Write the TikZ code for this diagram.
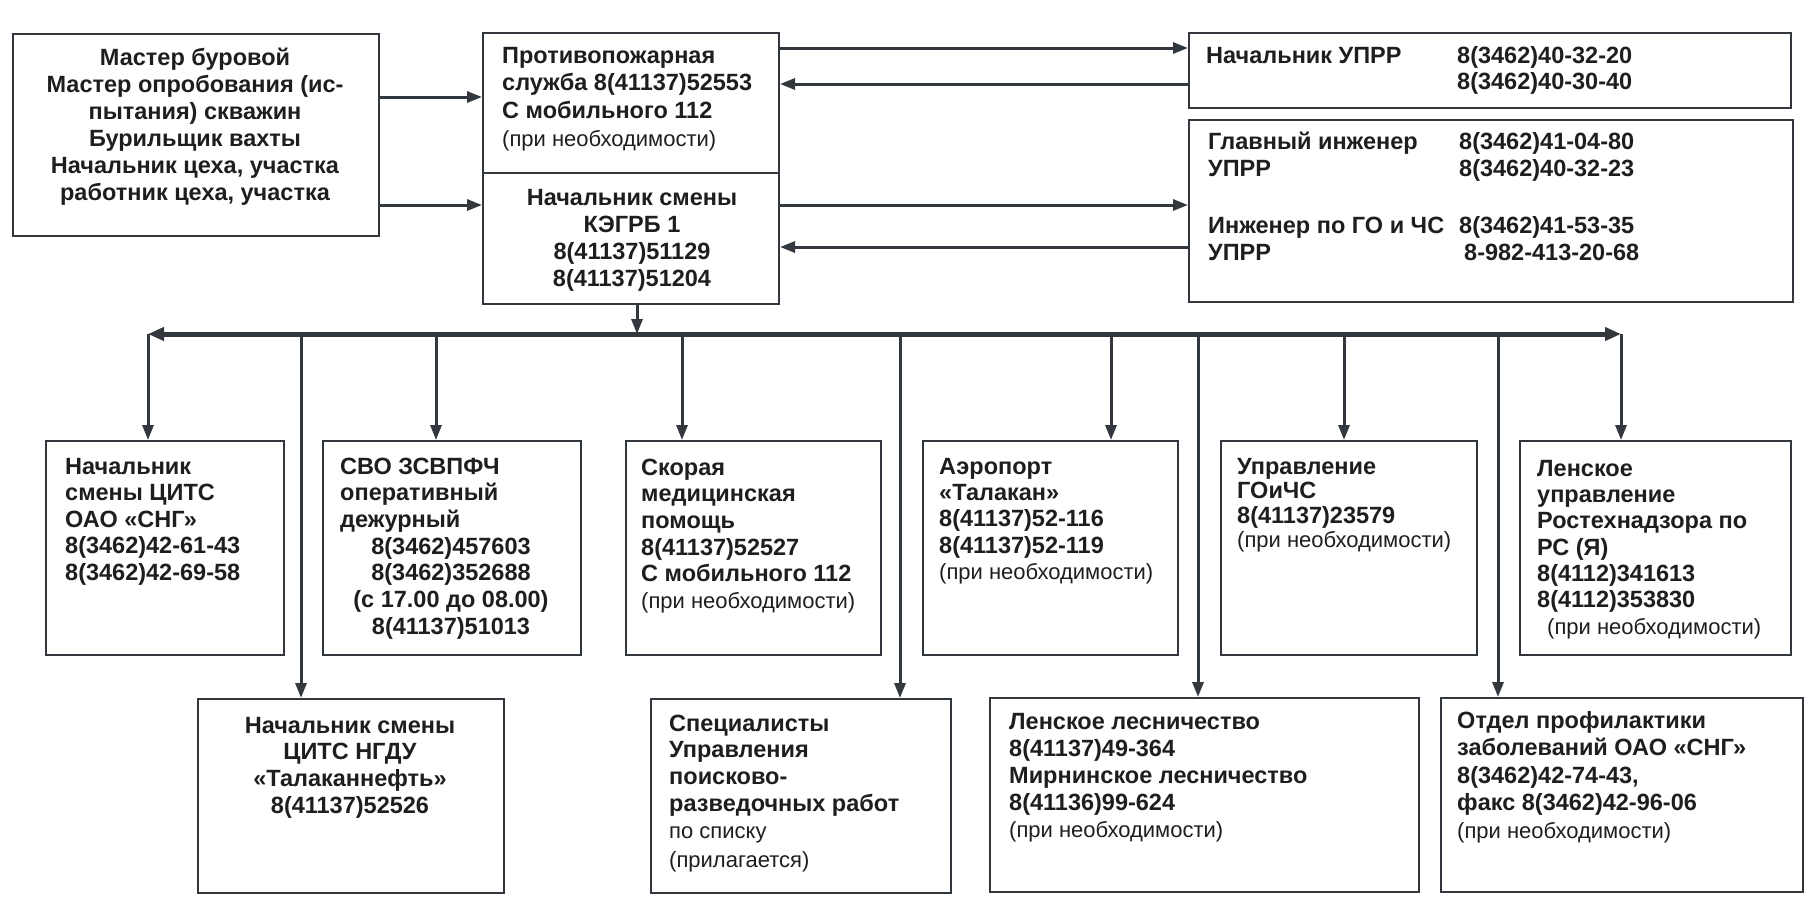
\documentclass[tikz,border=0pt]{standalone}
\usepackage{fontspec}
\setmainfont{Liberation Sans}
\usetikzlibrary{arrows.meta}
\definecolor{ln}{HTML}{33383E}
\definecolor{tx}{HTML}{1E1E1E}
\tikzset{
 bx/.style={draw=ln, line width=2pt, rectangle, inner sep=0pt, anchor=north west},
 tt/.style={inner sep=0pt, anchor=north west, align=left, text=tx, font=\bfseries\fontsize{23.5}{27}\selectfont},
 tc/.style={tt, anchor=north, align=center},
 arr/.style={draw=ln, line width=3pt, -{Triangle[length=15pt,width=11pt]}},
 bus/.style={draw=ln, line width=5pt, -{Triangle[length=16pt,width=13pt]}},
}
\newcommand\sm[1]{{\mdseries\fontsize{22}{27}\selectfont #1}}
\newcommand\fl{\rule{0pt}{20pt}}
\begin{document}
\begin{tikzpicture}[x=1pt,y=-1pt]
\useasboundingbox[fill=white] (0,0) rectangle (1809,914);
% boxes
\node[bx, minimum width=366pt, minimum height=202pt] (L) at (12,33) {};
\node[bx, minimum width=296pt, minimum height=140pt] (F) at (482,32) {};
\node[bx, minimum width=296pt, minimum height=131pt] (K) at (482,172) {};
\node[bx, minimum width=602pt, minimum height=75pt] (U) at (1188,32) {};
\node[bx, minimum width=604pt, minimum height=182pt] (G) at (1188,119) {};
\node[bx, minimum width=238pt, minimum height=214pt] (T1) at (45,440) {};
\node[bx, minimum width=258pt, minimum height=214pt] (T2) at (322,440) {};
\node[bx, minimum width=255pt, minimum height=214pt] (T3) at (625,440) {};
\node[bx, minimum width=255pt, minimum height=214pt] (T4) at (922,440) {};
\node[bx, minimum width=256pt, minimum height=214pt] (T5) at (1220,440) {};
\node[bx, minimum width=271pt, minimum height=214pt] (T6) at (1519,440) {};
\node[bx, minimum width=306pt, minimum height=194pt] (B1) at (197,698) {};
\node[bx, minimum width=300pt, minimum height=194pt] (B2) at (650,698) {};
\node[bx, minimum width=429pt, minimum height=194pt] (B3) at (989,697) {};
\node[bx, minimum width=362pt, minimum height=194pt] (B4) at (1440,697) {};
% texts
\node[tc] (Ltx) at (195,45) {\fl Мастер буровой\\Мастер опробования (ис-\\пытания) скважин\\Бурильщик вахты\\Начальник цеха, участка\\работник цеха, участка};
\node[tt, font=\bfseries\fontsize{23.5}{27.7}\selectfont] (Ftx) at (502,43) {\fl Противопожарная\\служба 8(41137)52553\\С мобильного 112\\\sm{(при необходимости)}};
\node[tc] (Ktx) at (632,185) {\fl Начальник смены\\КЭГРБ 1\\8(41137)51129\\8(41137)51204};
\node[tt, font=\bfseries\fontsize{23.5}{26}\selectfont] (Utx) at (1206,43) {\fl Начальник УПРР};
\node[tt, font=\bfseries\fontsize{23.5}{26}\selectfont] (Unum) at (1457,43) {\fl 8(3462)40-32-20\\8(3462)40-30-40};
\node[tt] (Gtx) at (1208,129) {\fl Главный инженер\\УПРР\\[30pt]Инженер по ГО и ЧС\\УПРР};
\node[tt] (Gnum) at (1459,129) {\fl 8(3462)41-04-80\\8(3462)40-32-23\\[30pt]8(3462)41-53-35\\\hspace*{5pt}8-982-413-20-68};
\node[tt, font=\bfseries\fontsize{23.5}{26.5}\selectfont] (T1tx) at (65,454) {\fl Начальник\\смены ЦИТС\\ОАО «СНГ»\\8(3462)42-61-43\\8(3462)42-69-58};
\node[tt, font=\bfseries\fontsize{23.5}{26.5}\selectfont] (T2tx) at (340,454) {\fl СВО ЗСВПФЧ\\оперативный\\дежурный};
\node[tc, font=\bfseries\fontsize{23.5}{26.7}\selectfont] (T2num) at (451,534) {\fl 8(3462)457603\\8(3462)352688\\(с 17.00 до 08.00)\\8(41137)51013};
\node[tt, font=\bfseries\fontsize{23.5}{26.6}\selectfont] (T3tx) at (641,455) {\fl Скорая\\медицинская\\помощь\\8(41137)52527\\С мобильного 112\\\sm{(при необходимости)}};
\node[tt, font=\bfseries\fontsize{23.5}{26.3}\selectfont] (T4tx) at (939,454) {\fl Аэропорт\\«Талакан»\\8(41137)52-116\\8(41137)52-119\\\sm{(при необходимости)}};
\node[tt, font=\bfseries\fontsize{23.5}{24.5}\selectfont] (T5tx) at (1237,454) {\fl Управление\\ГОиЧС\\8(41137)23579\\\sm{(при необходимости)}};
\node[tt, font=\bfseries\fontsize{23.5}{26.3}\selectfont] (T6tx) at (1537,456) {\fl Ленское\\управление\\Ростехнадзора по\\РС (Я)\\8(4112)341613\\8(4112)353830\\\hspace*{10pt}\sm{(при необходимости)}};
\node[tc, font=\bfseries\fontsize{23.5}{26.7}\selectfont] (B1tx) at (350,713) {\fl Начальник смены\\ЦИТС НГДУ\\«Талаканнефть»\\8(41137)52526};
\node[tt, font=\bfseries\fontsize{23.5}{26.7}\selectfont] (B2tx) at (669,711) {\fl Специалисты\\Управления\\поисково-\\разведочных работ\\\sm{по списку}\\[3pt]\sm{(прилагается)}};
\node[tt] (B3tx) at (1009,709) {\fl Ленское лесничество\\8(41137)49-364\\Мирнинское лесничество\\8(41136)99-624\\\sm{(при необходимости)}};
\node[tt, font=\bfseries\fontsize{23.5}{27.5}\selectfont] (B4tx) at (1457,708) {\fl Отдел профилактики\\заболеваний ОАО «СНГ»\\8(3462)42-74-43,\\факс 8(3462)42-96-06\\\sm{(при необходимости)}};
% connector levels
\coordinate (h1) at (0,97);
\coordinate (h2) at (0,205);
\coordinate (h3) at (0,48);
\coordinate (h4) at (0,84);
\coordinate (h5) at (0,247);
\draw[arr] (L.east |- h1) -- (F.west |- h1);
\draw[arr] (L.east |- h2) -- (K.west |- h2);
\draw[arr] (F.east |- h3) -- (U.west |- h3);
\draw[arr] (U.west |- h4) -- (F.east |- h4);
\draw[arr] (K.east |- h2) -- (G.west |- h2);
\draw[arr] (G.west |- h5) -- (K.east |- h5);
% bus
\coordinate (bj) at (637,334);
\coordinate (bl) at (148,334);
\coordinate (br) at (1621,334);
\coordinate (d1) at (301,334);
\coordinate (d2) at (436,334);
\coordinate (d3) at (682,334);
\coordinate (d4) at (900,334);
\coordinate (d5) at (1111,334);
\coordinate (d6) at (1198,334);
\coordinate (d7) at (1344,334);
\coordinate (d8) at (1498,334);
\draw[bus] (bj) -- (bl);
\draw[bus] (bj) -- (br);
\draw[arr] (K.south -| bj) -- (bj);
\draw[arr] (bl) -- (bl |- T1.north);
\draw[arr] (d1) -- (d1 |- B1.north);
\draw[arr] (d2) -- (d2 |- T2.north);
\draw[arr] (d3) -- (d3 |- T3.north);
\draw[arr] (d4) -- (d4 |- B2.north);
\draw[arr] (d5) -- (d5 |- T4.north);
\draw[arr] (d6) -- (d6 |- B3.north);
\draw[arr] (d7) -- (d7 |- T5.north);
\draw[arr] (d8) -- (d8 |- B4.north);
\draw[arr] (br) -- (br |- T6.north);
\end{tikzpicture}
\end{document}
